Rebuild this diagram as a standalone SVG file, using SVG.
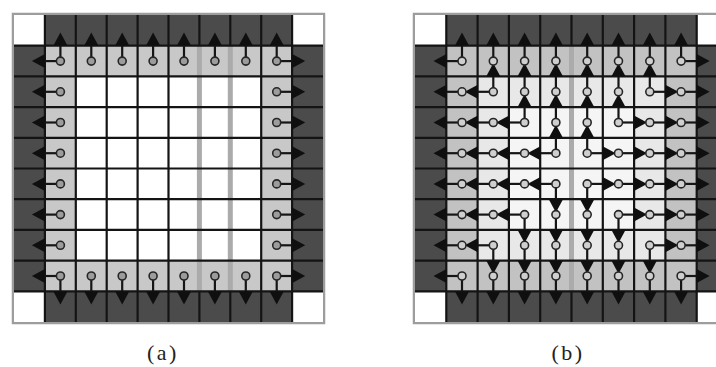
<svg xmlns="http://www.w3.org/2000/svg" width="716" height="367" viewBox="0 0 716 367">
<style>
.dark{fill:#4b4b4b}
.white{fill:#ffffff}
.ringa{fill:#c8c8c8}
.ringb{fill:#c2c2c2}
.ring2{fill:#e8e8e8}
.innerb{fill:#f5f5f5}
.grid{stroke:#141414;stroke-width:2.2;fill:none}
.band{stroke:#ababab;stroke-width:5;fill:none}
.frame{fill:none;stroke:#9d9d9d;stroke-width:2.5}
.shaft{stroke:#151515;stroke-width:2.2;fill:none}
.head{fill:#0f0f0f}
.na{fill:#9c9c9c;stroke:#262626;stroke-width:1.6}
.nb{fill:#cfcfcf;stroke:#262626;stroke-width:1.6}
.lbl{font-family:"Liberation Serif","Times New Roman",serif;font-size:22px;fill:#222222;letter-spacing:2.5px}
</style>
<defs>
<g id="U"><path class="shaft" d="M0,0V-15.5"/><path class="head" d="M-7,-15.5L0,-28.5L7,-15.5Z"/></g>
<g id="D"><path class="shaft" d="M0,0V15.5"/><path class="head" d="M-7,15.5L0,28.5L7,15.5Z"/></g>
<g id="L"><path class="shaft" d="M0,0H-15.5"/><path class="head" d="M-15.5,-7L-28.5,0L-15.5,7Z"/></g>
<g id="R"><path class="shaft" d="M0,0H15.5"/><path class="head" d="M15.5,-7L28.5,0L15.5,7Z"/></g>
</defs>

<g id="panel-a">
<rect class="frame" x="13" y="14" width="311" height="309"/>
<rect class="dark" x="14" y="15" width="309" height="307"/>
<rect class="white" x="14" y="15" width="30.9" height="30.7"/>
<rect class="white" x="292.1" y="15" width="30.9" height="30.7"/>
<rect class="white" x="14" y="291.3" width="30.9" height="30.7"/>
<rect class="white" x="292.1" y="291.3" width="30.9" height="30.7"/>
<rect class="ringa" x="44.9" y="45.7" width="247.2" height="245.6"/>
<rect class="white" x="75.8" y="76.4" width="185.4" height="184.2"/>
<path class="grid" d="M44.9,15V322M75.8,15V322M106.7,15V322M137.6,15V322M168.5,15V322M261.2,15V322M292.1,15V322M199.4,15V45.7M199.4,291.3V322M230.3,15V45.7M230.3,291.3V322"/>
<path class="band" d="M199.4,46V291M230.3,46V291"/>
<path class="grid" d="M14,45.7H323M14,76.4H323M14,107.1H323M14,137.8H323M14,168.5H323M14,199.2H323M14,229.9H323M14,260.6H323M14,291.3H323"/>
</g>

<g id="panel-b">
<rect class="frame" x="414" y="14" width="320" height="309"/>
<rect class="dark" x="415" y="15" width="313" height="307"/>
<rect class="white" x="415" y="15" width="31.3" height="30.7"/>
<rect class="white" x="696.7" y="15" width="31.3" height="30.7"/>
<rect class="white" x="415" y="291.3" width="31.3" height="30.7"/>
<rect class="white" x="696.7" y="291.3" width="31.3" height="30.7"/>
<rect class="ringb" x="446.3" y="45.7" width="250.4" height="245.6"/>
<rect class="ring2" x="477.6" y="76.4" width="187.8" height="184.2"/>
<rect class="innerb" x="508.9" y="107.1" width="125.2" height="122.8"/>
<path class="grid" d="M446.3,15V322M477.6,15V322M508.9,15V322M540.2,15V322M602.8,15V322M634.1,15V322M665.4,15V322M696.7,15V322M571.5,15V45.7M571.5,291.3V322"/>
<path class="band" d="M571.5,46V291"/>
<path class="grid" d="M415,45.7H716M415,76.4H716M415,107.1H716M415,137.8H716M415,168.5H716M415,199.2H716M415,229.9H716M415,260.6H716M415,291.3H716"/>
</g>

<g id="connectors">
<g id="connectors-a">
<use href="#U" x="60.4" y="61.1"/><use href="#U" x="91.3" y="61.1"/><use href="#U" x="122.2" y="61.1"/><use href="#U" x="153.1" y="61.1"/><use href="#U" x="184" y="61.1"/><use href="#U" x="214.9" y="61.1"/><use href="#U" x="245.8" y="61.1"/><use href="#U" x="276.7" y="61.1"/>
<use href="#D" x="60.4" y="276"/><use href="#D" x="91.3" y="276"/><use href="#D" x="122.2" y="276"/><use href="#D" x="153.1" y="276"/><use href="#D" x="184" y="276"/><use href="#D" x="214.9" y="276"/><use href="#D" x="245.8" y="276"/><use href="#D" x="276.7" y="276"/>
<use href="#L" x="60.4" y="61.1"/><use href="#L" x="60.4" y="91.8"/><use href="#L" x="60.4" y="122.5"/><use href="#L" x="60.4" y="153.2"/><use href="#L" x="60.4" y="183.9"/><use href="#L" x="60.4" y="214.6"/><use href="#L" x="60.4" y="245.3"/><use href="#L" x="60.4" y="276"/>
<use href="#R" x="276.7" y="61.1"/><use href="#R" x="276.7" y="91.8"/><use href="#R" x="276.7" y="122.5"/><use href="#R" x="276.7" y="153.2"/><use href="#R" x="276.7" y="183.9"/><use href="#R" x="276.7" y="214.6"/><use href="#R" x="276.7" y="245.3"/><use href="#R" x="276.7" y="276"/>
</g>
<g id="connectors-b">
<use href="#U" x="462" y="61.1"/><use href="#U" x="493.3" y="61.1"/><use href="#U" x="524.6" y="61.1"/><use href="#U" x="555.9" y="61.1"/><use href="#U" x="587.2" y="61.1"/><use href="#U" x="618.5" y="61.1"/><use href="#U" x="649.8" y="61.1"/><use href="#U" x="681.1" y="61.1"/>
<use href="#U" x="493.3" y="91.8"/><use href="#U" x="524.6" y="91.8"/><use href="#U" x="555.9" y="91.8"/><use href="#U" x="587.2" y="91.8"/><use href="#U" x="618.5" y="91.8"/><use href="#U" x="649.8" y="91.8"/>
<use href="#U" x="524.6" y="122.5"/><use href="#U" x="555.9" y="122.5"/><use href="#U" x="587.2" y="122.5"/><use href="#U" x="618.5" y="122.5"/>
<use href="#U" x="555.9" y="153.2"/><use href="#U" x="587.2" y="153.2"/>
<use href="#L" x="462" y="61.1"/>
<use href="#L" x="462" y="91.8"/><use href="#L" x="493.3" y="91.8"/>
<use href="#L" x="462" y="122.5"/><use href="#L" x="493.3" y="122.5"/><use href="#L" x="524.6" y="122.5"/>
<use href="#L" x="462" y="153.2"/><use href="#L" x="493.3" y="153.2"/><use href="#L" x="524.6" y="153.2"/><use href="#L" x="555.9" y="153.2"/>
<use href="#L" x="462" y="183.9"/><use href="#L" x="493.3" y="183.9"/><use href="#L" x="524.6" y="183.9"/><use href="#L" x="555.9" y="183.9"/>
<use href="#L" x="462" y="214.6"/><use href="#L" x="493.3" y="214.6"/><use href="#L" x="524.6" y="214.6"/>
<use href="#L" x="462" y="245.3"/><use href="#L" x="493.3" y="245.3"/>
<use href="#L" x="462" y="276"/>
<use href="#R" x="681.1" y="61.1"/>
<use href="#R" x="649.8" y="91.8"/><use href="#R" x="681.1" y="91.8"/>
<use href="#R" x="618.5" y="122.5"/><use href="#R" x="649.8" y="122.5"/><use href="#R" x="681.1" y="122.5"/>
<use href="#R" x="587.2" y="153.2"/><use href="#R" x="618.5" y="153.2"/><use href="#R" x="649.8" y="153.2"/><use href="#R" x="681.1" y="153.2"/>
<use href="#R" x="587.2" y="183.9"/><use href="#R" x="618.5" y="183.9"/><use href="#R" x="649.8" y="183.9"/><use href="#R" x="681.1" y="183.9"/>
<use href="#R" x="618.5" y="214.6"/><use href="#R" x="649.8" y="214.6"/><use href="#R" x="681.1" y="214.6"/>
<use href="#R" x="649.8" y="245.3"/><use href="#R" x="681.1" y="245.3"/>
<use href="#R" x="681.1" y="276"/>
<use href="#D" x="555.9" y="183.9"/><use href="#D" x="587.2" y="183.9"/>
<use href="#D" x="524.6" y="214.6"/><use href="#D" x="555.9" y="214.6"/><use href="#D" x="587.2" y="214.6"/><use href="#D" x="618.5" y="214.6"/>
<use href="#D" x="493.3" y="245.3"/><use href="#D" x="524.6" y="245.3"/><use href="#D" x="555.9" y="245.3"/><use href="#D" x="587.2" y="245.3"/><use href="#D" x="618.5" y="245.3"/><use href="#D" x="649.8" y="245.3"/>
<use href="#D" x="462" y="276"/><use href="#D" x="493.3" y="276"/><use href="#D" x="524.6" y="276"/><use href="#D" x="555.9" y="276"/><use href="#D" x="587.2" y="276"/><use href="#D" x="618.5" y="276"/><use href="#D" x="649.8" y="276"/><use href="#D" x="681.1" y="276"/>
</g>
</g>

<g id="nodes-a" class="na">
<circle id="a11" cx="60.4" cy="61.1" r="4"/><circle id="a12" cx="91.3" cy="61.1" r="4"/><circle id="a13" cx="122.2" cy="61.1" r="4"/><circle id="a14" cx="153.1" cy="61.1" r="4"/><circle id="a15" cx="184" cy="61.1" r="4"/><circle id="a16" cx="214.9" cy="61.1" r="4"/><circle id="a17" cx="245.8" cy="61.1" r="4"/><circle id="a18" cx="276.7" cy="61.1" r="4"/>
<circle id="a81" cx="60.4" cy="276" r="4"/><circle id="a82" cx="91.3" cy="276" r="4"/><circle id="a83" cx="122.2" cy="276" r="4"/><circle id="a84" cx="153.1" cy="276" r="4"/><circle id="a85" cx="184" cy="276" r="4"/><circle id="a86" cx="214.9" cy="276" r="4"/><circle id="a87" cx="245.8" cy="276" r="4"/><circle id="a88" cx="276.7" cy="276" r="4"/>
<circle id="a21" cx="60.4" cy="91.8" r="4"/><circle id="a31" cx="60.4" cy="122.5" r="4"/><circle id="a41" cx="60.4" cy="153.2" r="4"/><circle id="a51" cx="60.4" cy="183.9" r="4"/><circle id="a61" cx="60.4" cy="214.6" r="4"/><circle id="a71" cx="60.4" cy="245.3" r="4"/>
<circle id="a28" cx="276.7" cy="91.8" r="4"/><circle id="a38" cx="276.7" cy="122.5" r="4"/><circle id="a48" cx="276.7" cy="153.2" r="4"/><circle id="a58" cx="276.7" cy="183.9" r="4"/><circle id="a68" cx="276.7" cy="214.6" r="4"/><circle id="a78" cx="276.7" cy="245.3" r="4"/>
</g>

<g id="nodes-b" class="nb">
<circle id="b11" cx="462" cy="61.1" r="4"/><circle id="b12" cx="493.3" cy="61.1" r="4"/><circle id="b13" cx="524.6" cy="61.1" r="4"/><circle id="b14" cx="555.9" cy="61.1" r="4"/><circle id="b15" cx="587.2" cy="61.1" r="4"/><circle id="b16" cx="618.5" cy="61.1" r="4"/><circle id="b17" cx="649.8" cy="61.1" r="4"/><circle id="b18" cx="681.1" cy="61.1" r="4"/>
<circle id="b21" cx="462" cy="91.8" r="4"/><circle id="b22" cx="493.3" cy="91.8" r="4"/><circle id="b23" cx="524.6" cy="91.8" r="4"/><circle id="b24" cx="555.9" cy="91.8" r="4"/><circle id="b25" cx="587.2" cy="91.8" r="4"/><circle id="b26" cx="618.5" cy="91.8" r="4"/><circle id="b27" cx="649.8" cy="91.8" r="4"/><circle id="b28" cx="681.1" cy="91.8" r="4"/>
<circle id="b31" cx="462" cy="122.5" r="4"/><circle id="b32" cx="493.3" cy="122.5" r="4"/><circle id="b33" cx="524.6" cy="122.5" r="4"/><circle id="b34" cx="555.9" cy="122.5" r="4"/><circle id="b35" cx="587.2" cy="122.5" r="4"/><circle id="b36" cx="618.5" cy="122.5" r="4"/><circle id="b37" cx="649.8" cy="122.5" r="4"/><circle id="b38" cx="681.1" cy="122.5" r="4"/>
<circle id="b41" cx="462" cy="153.2" r="4"/><circle id="b42" cx="493.3" cy="153.2" r="4"/><circle id="b43" cx="524.6" cy="153.2" r="4"/><circle id="b44" cx="555.9" cy="153.2" r="4"/><circle id="b45" cx="587.2" cy="153.2" r="4"/><circle id="b46" cx="618.5" cy="153.2" r="4"/><circle id="b47" cx="649.8" cy="153.2" r="4"/><circle id="b48" cx="681.1" cy="153.2" r="4"/>
<circle id="b51" cx="462" cy="183.9" r="4"/><circle id="b52" cx="493.3" cy="183.9" r="4"/><circle id="b53" cx="524.6" cy="183.9" r="4"/><circle id="b54" cx="555.9" cy="183.9" r="4"/><circle id="b55" cx="587.2" cy="183.9" r="4"/><circle id="b56" cx="618.5" cy="183.9" r="4"/><circle id="b57" cx="649.8" cy="183.9" r="4"/><circle id="b58" cx="681.1" cy="183.9" r="4"/>
<circle id="b61" cx="462" cy="214.6" r="4"/><circle id="b62" cx="493.3" cy="214.6" r="4"/><circle id="b63" cx="524.6" cy="214.6" r="4"/><circle id="b64" cx="555.9" cy="214.6" r="4"/><circle id="b65" cx="587.2" cy="214.6" r="4"/><circle id="b66" cx="618.5" cy="214.6" r="4"/><circle id="b67" cx="649.8" cy="214.6" r="4"/><circle id="b68" cx="681.1" cy="214.6" r="4"/>
<circle id="b71" cx="462" cy="245.3" r="4"/><circle id="b72" cx="493.3" cy="245.3" r="4"/><circle id="b73" cx="524.6" cy="245.3" r="4"/><circle id="b74" cx="555.9" cy="245.3" r="4"/><circle id="b75" cx="587.2" cy="245.3" r="4"/><circle id="b76" cx="618.5" cy="245.3" r="4"/><circle id="b77" cx="649.8" cy="245.3" r="4"/><circle id="b78" cx="681.1" cy="245.3" r="4"/>
<circle id="b81" cx="462" cy="276" r="4"/><circle id="b82" cx="493.3" cy="276" r="4"/><circle id="b83" cx="524.6" cy="276" r="4"/><circle id="b84" cx="555.9" cy="276" r="4"/><circle id="b85" cx="587.2" cy="276" r="4"/><circle id="b86" cx="618.5" cy="276" r="4"/><circle id="b87" cx="649.8" cy="276" r="4"/><circle id="b88" cx="681.1" cy="276" r="4"/>
</g>

<g id="labels">
<text class="lbl" x="163" y="360" text-anchor="middle">(a)</text>
<text class="lbl" x="568" y="360" text-anchor="middle">(b)</text>
</g>
</svg>
